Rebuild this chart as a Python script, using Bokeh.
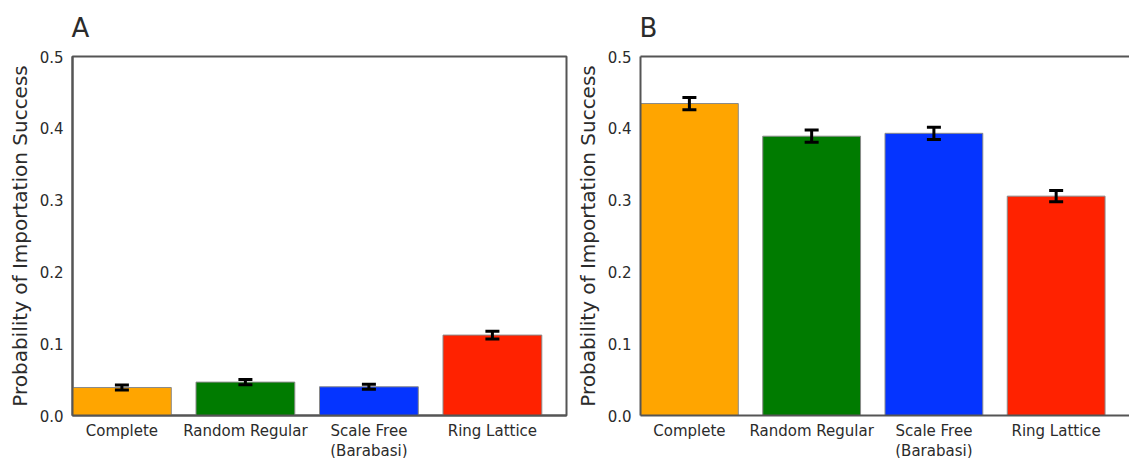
from bokeh.plotting import figure
from bokeh.layouts import row
from bokeh.models import (ColumnDataSource, Range1d, FixedTicker, LinearAxis,
                          PrintfTickFormatter, Whisker, TeeHead, Title)
from bokeh.embed import file_html
from bokeh.resources import INLINE

# Network topologies and their colours
categories = ["Complete", "Random Regular", "Scale Free\n(Barabasi)", "Ring Lattice"]
bar_colors = ["#ffa500", "#007b00", "#0534ff", "#ff2200"]

# Probability of importation success, with standard-error half widths
success_a = [0.039, 0.0465, 0.040, 0.112]
error_a = [0.0035, 0.0035, 0.0035, 0.0055]
success_b = [0.4345, 0.389, 0.393, 0.3055]
error_b = [0.0085, 0.0085, 0.0085, 0.0078]

y_ticks = [0.0, 0.1, 0.2, 0.3, 0.4, 0.5]

FONT = "DejaVu Sans"
AXIS_COLOR = "#555555"
TEXT_COLOR = "#2b2b2b"
X_MIN, X_MAX = -0.4, 3.6
Y_MIN, Y_MAX = 0.0, 0.5
FRAME_H = 359


def make_panel(letter, values, errors, frame_w, border_left, border_right, full_box):
    xs = list(range(len(categories)))
    src = ColumnDataSource(dict(
        x=xs, top=values, color=bar_colors,
        upper=[v + e for v, e in zip(values, errors)],
        lower=[v - e for v, e in zip(values, errors)],
    ))
    # panel letter as the plot title, top-aligned and pushed to the left corner
    letter_title = Title(text=letter, text_font=FONT, text_font_size="26px",
                         text_font_style="normal", text_color=TEXT_COLOR,
                         align="left", vertical_align="top", standoff=23,
                         offset=-1)
    p = figure(frame_width=frame_w, frame_height=FRAME_H,
               x_range=Range1d(X_MIN, X_MAX), y_range=Range1d(Y_MIN, Y_MAX),
               output_backend="svg", toolbar_location=None,
               min_border_left=border_left, min_border_right=border_right,
               min_border_top=56, min_border_bottom=43,
               title=letter_title)

    p.vbar(x="x", top="top", width=0.8, bottom=0, source=src,
           fill_color="color", line_color="#8a8a8a", line_width=1)

    whisk = Whisker(source=src, base="x", upper="upper", lower="lower",
                    dimension="height", line_color="black", line_width=3,
                    level="overlay",
                    upper_head=TeeHead(size=14, line_color="black", line_width=3),
                    lower_head=TeeHead(size=14, line_color="black", line_width=3))
    p.add_layout(whisk)

    p.xgrid.visible = False
    p.ygrid.visible = False

    xa = p.xaxis[0]
    xa.ticker = FixedTicker(ticks=xs)
    xa.major_label_overrides = {i: c for i, c in zip(xs, categories)}
    xa.major_label_text_font = FONT
    xa.major_label_text_font_size = "15px"
    xa.major_label_text_color = TEXT_COLOR
    xa.major_label_text_line_height = 1.15
    xa.major_label_standoff = 6
    xa.major_tick_out = 0
    xa.major_tick_in = 0
    xa.major_tick_line_color = None
    xa.minor_tick_line_color = None
    xa.axis_line_color = AXIS_COLOR
    xa.axis_line_width = 2

    ya = p.yaxis[0]
    ya.ticker = FixedTicker(ticks=y_ticks)
    ya.formatter = PrintfTickFormatter(format="%.1f")
    ya.major_label_text_font = FONT
    ya.major_label_text_font_size = "15px"
    ya.major_label_text_color = TEXT_COLOR
    ya.major_label_standoff = 9
    ya.major_tick_out = 0
    ya.major_tick_in = 0
    ya.major_tick_line_color = None
    ya.minor_tick_line_color = None
    ya.axis_line_color = AXIS_COLOR
    ya.axis_line_width = 2
    ya.axis_label = "Probability of Importation Success"
    ya.axis_label_text_font = FONT
    ya.axis_label_text_font_size = "20px"
    ya.axis_label_text_font_style = "normal"
    ya.axis_label_text_color = TEXT_COLOR
    ya.axis_label_standoff = 5

    if full_box:
        p.outline_line_color = AXIS_COLOR
        p.outline_line_width = 2
        p.outline_line_alpha = 1
    else:
        # open on the right: only the top edge of the frame is drawn
        p.outline_line_color = None
        top = LinearAxis(ticker=FixedTicker(ticks=[]), axis_line_color=AXIS_COLOR,
                         axis_line_width=2, major_tick_line_color=None,
                         minor_tick_line_color=None, major_tick_out=0,
                         major_tick_in=0)
        p.add_layout(top, "above")
    return p


pa = make_panel("A", success_a, error_a, 494, 72, 6, True)
pb = make_panel("B", success_b, error_b, 489, 68, 0, False)

layout = row(pa, pb, spacing=0)
open("out.html", "w").write(file_html(layout, INLINE))
